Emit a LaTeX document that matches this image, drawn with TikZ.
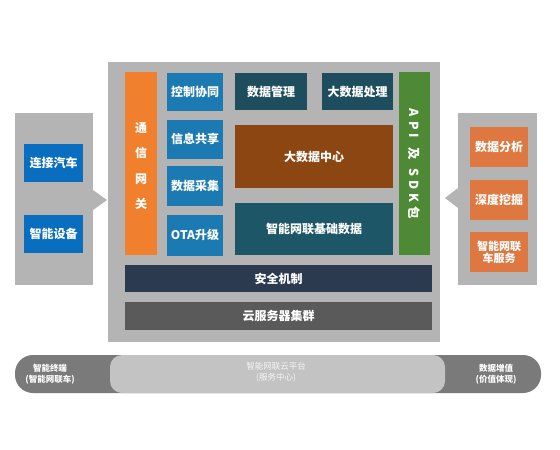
\documentclass[tikz,border=0pt]{standalone}
\usepackage{fontspec}
\setmainfont{Noto Sans CJK SC}
\begin{document}
\begin{tikzpicture}[x=1pt,y=-1pt,
  box/.style={draw=none,inner sep=0pt,text=white,font=\bfseries\fontsize{12}{14}\selectfont,align=center},
  panel/.style={fill=panelgray,draw=none}]
\definecolor{panelgray}{HTML}{B4B4B4}
\definecolor{brightblue}{HTML}{0A6EC0}
\definecolor{midblue}{HTML}{1B7AB2}
\definecolor{darkteal}{HTML}{1E4E5E}
\definecolor{teal2}{HTML}{1D5667}
\definecolor{brown1}{HTML}{8B4612}
\definecolor{orange1}{HTML}{F07F2E}
\definecolor{green1}{HTML}{4E8A36}
\definecolor{navy1}{HTML}{2C3A50}
\definecolor{gray5}{HTML}{5A5A5A}
\definecolor{orange2}{HTML}{DE7840}
\definecolor{banddark}{HTML}{7A7A7A}
\definecolor{bandlight}{HTML}{C3C3C3}
\useasboundingbox (0,0) rectangle (560,450);
\fill[white] (0,0) rectangle (560,450);
% main panel
\fill[panelgray] (108,62) rectangle (440,342);
% left panel with arrow
\fill[panelgray] (15,113) rectangle (93,285);
\fill[panelgray] (93,190) -- (107,200) -- (93,210) -- cycle;
% right panel with arrow
\fill[panelgray] (458,113) rectangle (537,285);
\fill[panelgray] (458,188) -- (445,198) -- (458,208) -- cycle;
% left boxes
\node[box,fill=brightblue,minimum width=59pt,minimum height=38pt] (car) at (53.5,162.5) {连接汽车};
\node[box,fill=brightblue,minimum width=59pt,minimum height=38pt] (dev) at (53.5,234) {智能设备};
% right boxes
\node[box,fill=orange2,minimum width=58pt,minimum height=40pt] (ana) at (499,147) {数据分析};
\node[box,fill=orange2,minimum width=58pt,minimum height=40pt] (mine) at (499,200) {深度挖掘};
\node[box,fill=orange2,minimum width=58pt,minimum height=40pt,font=\bfseries\fontsize{11}{12}\selectfont] (svc) at (499,252) {智能网联\\车服务};
% gateway
\node[box,fill=orange1,minimum width=32pt,minimum height=183pt] (gw) at (141,163.5) {};
\node[box,font=\bfseries\fontsize{12}{25.5}\selectfont] (gwtext) at (141,166) {通\\信\\网\\关};
% blue column
\node[box,fill=midblue,minimum width=56pt,minimum height=38pt] (ctl) at (195,91.5) {控制协同};
\node[box,fill=midblue,minimum width=56pt,minimum height=39pt] (share) at (195,139) {信息共享};
\node[box,fill=midblue,minimum width=56pt,minimum height=40pt] (coll) at (195,186) {数据采集};
\node[box,fill=midblue,minimum width=56pt,minimum height=41pt] (ota) at (195,235) {OTA升级};
% top dark boxes
\node[box,fill=darkteal,minimum width=72pt,minimum height=37pt] (mgmt) at (271,91.5) {数据管理};
\node[box,fill=darkteal,minimum width=71pt,minimum height=37pt] (proc) at (357.5,91.5) {大数据处理};
% big data center
\node[box,fill=brown1,minimum width=158pt,minimum height=63pt] (center) at (314,156.5) {大数据中心};
\node[box,fill=teal2,minimum width=158pt,minimum height=52pt] (base) at (314,229) {智能网联基础数据};
% API SDK
\node[box,fill=green1,minimum width=31pt,minimum height=183pt] (api) at (414.5,163.5) {};
\node[box,rotate=-90,font=\bfseries\fontsize{12.5}{14}\selectfont] (apitext) at (414.5,164) {A\hspace{4pt}P\hspace{4pt}I\hspace{9pt}及\hspace{9pt}S\hspace{4pt}D\hspace{4pt}K\hspace{4pt}包};
% security and cloud
\node[box,fill=navy1,minimum width=307pt,minimum height=27pt] (sec) at (278.5,278.5) {安全机制};
\node[box,fill=gray5,minimum width=307pt,minimum height=28pt] (cloud) at (278.5,316) {云服务器集群};
% bottom band
\fill[banddark,rounded corners=18pt] (15,355) rectangle (541,393);
\fill[bandlight,rounded corners=12pt] (110,355) rectangle (445,393);
\node[box,font=\bfseries\fontsize{8.5}{11}\selectfont] (term) at (50,374) {智能终端\\(智能网联车)};
\node[box,font=\fontsize{8.5}{11}\selectfont,text=white!92!gray] (plat) at (276,372) {智能网联云平台\\(服务中心)};
\node[box,font=\bfseries\fontsize{8.5}{11}\selectfont] (value) at (496,374) {数据增值\\(价值体现)};
\end{tikzpicture}
\end{document}
